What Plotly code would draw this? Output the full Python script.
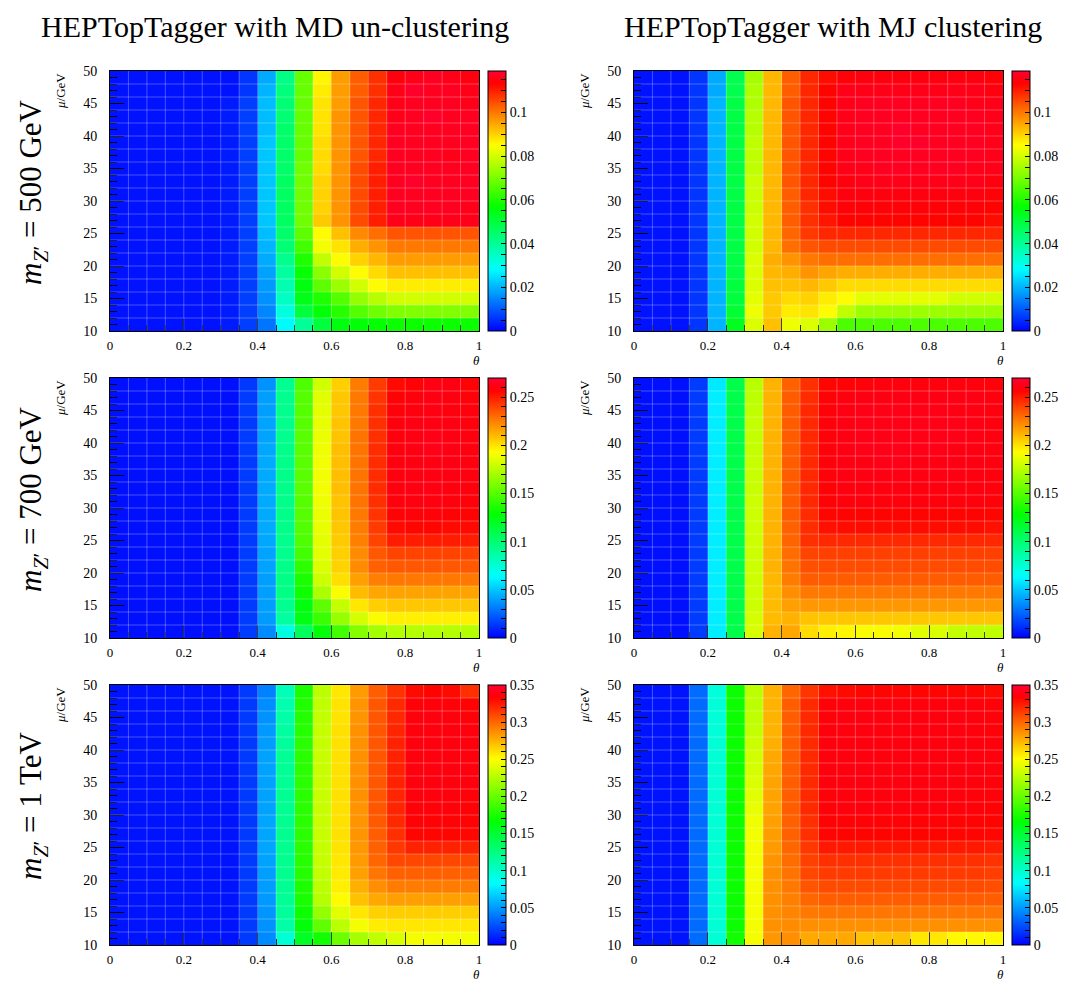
import plotly.graph_objects as go
import colorsys

W_REF, H_REF = 1067, 981
OFF = 8            # the page body margin shifts the figure by 8 px
W, H = W_REF - OFF, H_REF - OFF
MR = 60            # right margin reserved for the outer colorbar labels

# ---------------- data ----------------
theta_centers = [0.025, 0.075, 0.125, 0.175, 0.225, 0.275, 0.325, 0.375, 0.425, 0.475,
                 0.525, 0.575, 0.625, 0.675, 0.725, 0.775, 0.825, 0.875, 0.925, 0.975]
mu_centers = [49, 47, 45, 43, 41, 39, 37, 35, 33, 31, 29, 27, 25, 23, 21, 19, 17, 15, 13, 11]

x_tick_vals = [0, 0.2, 0.4, 0.6, 0.8, 1]
x_tick_text = ["0", "0.2", "0.4", "0.6", "0.8", "1"]
y_tick_vals = [10, 15, 20, 25, 30, 35, 40, 45, 50]
y_tick_text = ["10", "15", "20", "25", "30", "35", "40", "45", "50"]

col_titles = ["HEPTopTagger with MD un-clustering", "HEPTopTagger with MJ clustering"]
row_titles = ["<i>m</i><sub><i>Z</i>′</sub> = 500 GeV",
              "<i>m</i><sub><i>Z</i>′</sub> = 700 GeV",
              "<i>m</i><sub><i>Z</i>′</sub> = 1 TeV"]

z_max = [0.119, 0.27, 0.35]
cbar_dtick = [0.005, 0.01, 0.01]
cbar_label_step = [4, 5, 5]

md_500 = [
    [0.002,0.002,0.002,0.002,0.002,0.002,0.002,0.006,0.019,0.042,0.068,0.086,0.096,0.103,0.108,0.115,0.116,0.117,0.116,0.115],
    [0.002,0.002,0.002,0.002,0.002,0.002,0.002,0.006,0.020,0.043,0.068,0.087,0.096,0.103,0.108,0.116,0.118,0.117,0.117,0.116],
    [0.002,0.002,0.002,0.002,0.002,0.002,0.003,0.007,0.021,0.044,0.068,0.088,0.096,0.104,0.109,0.116,0.117,0.117,0.117,0.116],
    [0.002,0.002,0.002,0.002,0.002,0.002,0.003,0.007,0.021,0.044,0.068,0.088,0.097,0.104,0.109,0.116,0.117,0.118,0.117,0.117],
    [0.002,0.002,0.002,0.002,0.002,0.002,0.003,0.007,0.021,0.045,0.068,0.088,0.097,0.104,0.109,0.117,0.117,0.117,0.117,0.117],
    [0.002,0.002,0.002,0.002,0.002,0.002,0.003,0.007,0.022,0.045,0.068,0.089,0.097,0.104,0.109,0.117,0.117,0.117,0.117,0.117],
    [0.002,0.002,0.002,0.002,0.002,0.002,0.003,0.007,0.022,0.045,0.068,0.089,0.097,0.104,0.109,0.117,0.117,0.117,0.116,0.117],
    [0.002,0.002,0.002,0.002,0.002,0.002,0.003,0.007,0.022,0.045,0.069,0.089,0.097,0.105,0.110,0.117,0.117,0.117,0.117,0.117],
    [0.002,0.002,0.002,0.002,0.002,0.002,0.003,0.007,0.022,0.046,0.069,0.090,0.097,0.105,0.110,0.117,0.118,0.117,0.117,0.117],
    [0.002,0.002,0.002,0.002,0.002,0.002,0.003,0.007,0.022,0.046,0.069,0.090,0.097,0.105,0.110,0.117,0.117,0.117,0.117,0.117],
    [0.002,0.002,0.002,0.002,0.002,0.002,0.003,0.007,0.022,0.046,0.069,0.090,0.097,0.105,0.110,0.117,0.117,0.117,0.117,0.116],
    [0.002,0.002,0.002,0.002,0.002,0.002,0.003,0.007,0.022,0.046,0.069,0.091,0.097,0.105,0.110,0.116,0.116,0.116,0.116,0.116],
    [0.002,0.002,0.002,0.002,0.002,0.002,0.003,0.007,0.021,0.045,0.067,0.085,0.092,0.098,0.101,0.104,0.104,0.104,0.104,0.104],
    [0.002,0.002,0.002,0.002,0.002,0.002,0.003,0.007,0.020,0.044,0.064,0.084,0.088,0.094,0.097,0.100,0.100,0.100,0.100,0.100],
    [0.002,0.002,0.002,0.002,0.002,0.002,0.003,0.007,0.019,0.041,0.060,0.078,0.085,0.090,0.093,0.096,0.096,0.096,0.096,0.096],
    [0.002,0.002,0.002,0.002,0.002,0.002,0.003,0.007,0.018,0.039,0.057,0.072,0.080,0.085,0.089,0.092,0.092,0.092,0.092,0.092],
    [0.002,0.002,0.002,0.002,0.002,0.002,0.003,0.007,0.017,0.037,0.055,0.067,0.074,0.080,0.085,0.087,0.087,0.087,0.087,0.087],
    [0.002,0.002,0.002,0.002,0.002,0.002,0.003,0.007,0.016,0.035,0.054,0.060,0.066,0.073,0.077,0.080,0.080,0.080,0.080,0.080],
    [0.002,0.002,0.002,0.002,0.002,0.002,0.003,0.007,0.015,0.032,0.050,0.056,0.061,0.066,0.069,0.071,0.071,0.071,0.071,0.071],
    [0.002,0.002,0.002,0.002,0.002,0.002,0.003,0.007,0.013,0.028,0.040,0.050,0.055,0.056,0.057,0.058,0.058,0.058,0.058,0.058],
]

mj_500 = [
    [0.002,0.002,0.002,0.006,0.019,0.048,0.075,0.093,0.103,0.109,0.112,0.114,0.115,0.115,0.115,0.115,0.115,0.115,0.115,0.114],
    [0.002,0.002,0.002,0.006,0.019,0.048,0.076,0.093,0.103,0.109,0.113,0.116,0.116,0.116,0.116,0.116,0.116,0.116,0.116,0.115],
    [0.002,0.002,0.002,0.006,0.020,0.049,0.076,0.093,0.104,0.109,0.113,0.116,0.117,0.117,0.117,0.117,0.117,0.117,0.116,0.116],
    [0.002,0.002,0.002,0.006,0.020,0.049,0.077,0.093,0.104,0.109,0.113,0.116,0.117,0.117,0.117,0.117,0.117,0.117,0.117,0.116],
    [0.002,0.002,0.002,0.006,0.020,0.049,0.077,0.093,0.104,0.109,0.113,0.116,0.117,0.117,0.118,0.117,0.117,0.117,0.117,0.116],
    [0.002,0.002,0.002,0.006,0.020,0.049,0.078,0.093,0.104,0.109,0.113,0.116,0.117,0.117,0.118,0.118,0.117,0.117,0.117,0.116],
    [0.002,0.002,0.002,0.006,0.020,0.049,0.078,0.093,0.104,0.109,0.113,0.116,0.117,0.117,0.117,0.117,0.117,0.117,0.117,0.116],
    [0.002,0.002,0.002,0.006,0.020,0.049,0.078,0.093,0.104,0.109,0.113,0.116,0.116,0.117,0.117,0.117,0.117,0.117,0.116,0.116],
    [0.002,0.002,0.002,0.006,0.020,0.049,0.079,0.093,0.104,0.109,0.113,0.115,0.116,0.116,0.116,0.116,0.116,0.116,0.116,0.115],
    [0.002,0.002,0.002,0.006,0.020,0.049,0.079,0.093,0.103,0.109,0.112,0.115,0.115,0.115,0.115,0.115,0.115,0.115,0.115,0.114],
    [0.002,0.002,0.002,0.006,0.020,0.049,0.079,0.093,0.103,0.108,0.112,0.114,0.114,0.114,0.114,0.114,0.114,0.114,0.114,0.113],
    [0.002,0.002,0.002,0.006,0.020,0.049,0.080,0.093,0.103,0.108,0.111,0.113,0.113,0.113,0.113,0.113,0.113,0.113,0.113,0.112],
    [0.002,0.002,0.002,0.006,0.020,0.049,0.080,0.093,0.102,0.107,0.109,0.109,0.109,0.109,0.109,0.109,0.109,0.109,0.109,0.109],
    [0.002,0.002,0.002,0.006,0.020,0.049,0.080,0.093,0.101,0.104,0.105,0.105,0.105,0.105,0.105,0.105,0.105,0.105,0.105,0.105],
    [0.002,0.002,0.002,0.006,0.020,0.049,0.081,0.094,0.097,0.100,0.101,0.101,0.101,0.101,0.101,0.101,0.101,0.101,0.101,0.101],
    [0.002,0.002,0.002,0.006,0.020,0.049,0.081,0.093,0.094,0.097,0.095,0.094,0.094,0.094,0.094,0.094,0.094,0.094,0.094,0.094],
    [0.002,0.002,0.002,0.006,0.020,0.050,0.081,0.092,0.092,0.093,0.091,0.089,0.089,0.089,0.089,0.089,0.089,0.089,0.089,0.089],
    [0.002,0.002,0.002,0.006,0.020,0.050,0.082,0.091,0.089,0.090,0.087,0.085,0.082,0.082,0.082,0.082,0.082,0.080,0.080,0.080],
    [0.002,0.002,0.002,0.006,0.020,0.051,0.083,0.091,0.087,0.088,0.085,0.078,0.074,0.074,0.074,0.074,0.074,0.074,0.074,0.074],
    [0.002,0.002,0.002,0.006,0.020,0.053,0.081,0.092,0.083,0.081,0.074,0.065,0.065,0.065,0.065,0.065,0.065,0.065,0.065,0.065],
]

md_700 = [
    [0.004,0.004,0.004,0.004,0.004,0.004,0.004,0.014,0.037,0.092,0.148,0.181,0.205,0.226,0.242,0.255,0.258,0.262,0.262,0.258],
    [0.004,0.004,0.004,0.004,0.004,0.004,0.004,0.015,0.040,0.093,0.150,0.185,0.207,0.227,0.244,0.258,0.260,0.262,0.261,0.259],
    [0.004,0.004,0.004,0.004,0.004,0.004,0.004,0.015,0.040,0.093,0.150,0.186,0.207,0.227,0.245,0.259,0.261,0.262,0.261,0.260],
    [0.004,0.004,0.004,0.004,0.004,0.004,0.004,0.015,0.041,0.093,0.150,0.187,0.208,0.227,0.245,0.260,0.262,0.262,0.262,0.260],
    [0.004,0.004,0.004,0.004,0.004,0.004,0.004,0.015,0.041,0.093,0.151,0.188,0.208,0.228,0.245,0.260,0.262,0.263,0.262,0.261],
    [0.004,0.004,0.004,0.004,0.004,0.004,0.004,0.015,0.042,0.094,0.151,0.189,0.209,0.228,0.246,0.261,0.262,0.263,0.262,0.261],
    [0.004,0.004,0.004,0.004,0.004,0.004,0.004,0.015,0.043,0.094,0.151,0.190,0.209,0.228,0.246,0.261,0.262,0.262,0.262,0.261],
    [0.004,0.004,0.004,0.004,0.004,0.004,0.004,0.015,0.043,0.094,0.151,0.190,0.209,0.228,0.246,0.261,0.262,0.262,0.262,0.261],
    [0.004,0.004,0.004,0.004,0.004,0.004,0.004,0.015,0.043,0.094,0.151,0.190,0.209,0.228,0.246,0.261,0.262,0.262,0.261,0.260],
    [0.004,0.004,0.004,0.004,0.004,0.004,0.004,0.015,0.043,0.094,0.150,0.189,0.208,0.228,0.245,0.260,0.261,0.261,0.260,0.259],
    [0.004,0.004,0.004,0.004,0.004,0.004,0.004,0.015,0.043,0.094,0.150,0.188,0.208,0.227,0.244,0.258,0.259,0.259,0.258,0.257],
    [0.004,0.004,0.004,0.004,0.004,0.004,0.004,0.015,0.043,0.094,0.149,0.187,0.207,0.226,0.242,0.255,0.256,0.256,0.255,0.255],
    [0.004,0.004,0.004,0.004,0.004,0.004,0.004,0.015,0.042,0.093,0.148,0.186,0.206,0.225,0.240,0.250,0.250,0.250,0.250,0.250],
    [0.004,0.004,0.004,0.004,0.004,0.004,0.004,0.015,0.041,0.093,0.145,0.186,0.205,0.222,0.235,0.240,0.240,0.240,0.240,0.240],
    [0.004,0.004,0.004,0.004,0.004,0.004,0.004,0.015,0.041,0.094,0.140,0.184,0.204,0.222,0.233,0.235,0.235,0.235,0.235,0.235],
    [0.004,0.004,0.004,0.004,0.004,0.004,0.004,0.015,0.040,0.095,0.135,0.180,0.201,0.217,0.225,0.227,0.227,0.227,0.227,0.227],
    [0.004,0.004,0.004,0.004,0.004,0.004,0.004,0.015,0.040,0.095,0.132,0.172,0.192,0.210,0.215,0.216,0.216,0.216,0.216,0.216],
    [0.004,0.004,0.004,0.004,0.004,0.004,0.004,0.015,0.040,0.092,0.125,0.152,0.178,0.199,0.205,0.207,0.207,0.207,0.207,0.207],
    [0.004,0.004,0.004,0.004,0.004,0.004,0.004,0.015,0.039,0.088,0.124,0.143,0.167,0.182,0.192,0.197,0.197,0.197,0.197,0.197],
    [0.004,0.004,0.004,0.004,0.004,0.004,0.004,0.015,0.035,0.072,0.105,0.127,0.145,0.162,0.170,0.174,0.174,0.174,0.174,0.174],
]

mj_700 = [
    [0.004,0.004,0.004,0.015,0.059,0.110,0.175,0.212,0.233,0.245,0.256,0.258,0.259,0.260,0.260,0.260,0.260,0.260,0.260,0.259],
    [0.004,0.004,0.004,0.015,0.060,0.110,0.176,0.212,0.234,0.246,0.258,0.261,0.262,0.262,0.262,0.262,0.262,0.262,0.262,0.261],
    [0.004,0.004,0.004,0.015,0.060,0.110,0.177,0.212,0.234,0.247,0.259,0.262,0.263,0.263,0.263,0.263,0.263,0.262,0.262,0.261],
    [0.004,0.004,0.004,0.015,0.060,0.110,0.178,0.212,0.234,0.247,0.259,0.262,0.263,0.263,0.263,0.263,0.263,0.263,0.262,0.261],
    [0.004,0.004,0.004,0.015,0.060,0.110,0.178,0.212,0.234,0.247,0.259,0.262,0.263,0.263,0.263,0.263,0.263,0.263,0.262,0.261],
    [0.004,0.004,0.004,0.015,0.060,0.110,0.178,0.212,0.234,0.247,0.259,0.262,0.263,0.263,0.263,0.263,0.263,0.262,0.262,0.261],
    [0.004,0.004,0.004,0.015,0.060,0.110,0.179,0.212,0.234,0.247,0.259,0.262,0.262,0.263,0.263,0.262,0.262,0.262,0.262,0.261],
    [0.004,0.004,0.004,0.015,0.060,0.110,0.179,0.212,0.234,0.247,0.259,0.262,0.262,0.262,0.262,0.262,0.262,0.262,0.261,0.260],
    [0.004,0.004,0.004,0.015,0.060,0.110,0.179,0.212,0.234,0.247,0.258,0.261,0.261,0.261,0.261,0.261,0.261,0.261,0.261,0.260],
    [0.004,0.004,0.004,0.015,0.060,0.110,0.180,0.212,0.234,0.247,0.258,0.260,0.260,0.260,0.260,0.260,0.260,0.260,0.260,0.259],
    [0.004,0.004,0.004,0.015,0.060,0.110,0.180,0.212,0.234,0.246,0.256,0.257,0.257,0.257,0.257,0.257,0.257,0.257,0.257,0.256],
    [0.004,0.004,0.004,0.015,0.060,0.110,0.180,0.212,0.233,0.246,0.253,0.254,0.254,0.254,0.254,0.254,0.254,0.254,0.254,0.253],
    [0.004,0.004,0.004,0.015,0.060,0.110,0.180,0.212,0.232,0.245,0.247,0.247,0.247,0.247,0.247,0.247,0.247,0.247,0.247,0.247],
    [0.004,0.004,0.004,0.015,0.060,0.110,0.180,0.212,0.230,0.240,0.241,0.241,0.241,0.241,0.241,0.241,0.241,0.241,0.241,0.241],
    [0.004,0.004,0.004,0.015,0.060,0.110,0.180,0.212,0.228,0.237,0.238,0.238,0.238,0.238,0.238,0.238,0.238,0.238,0.238,0.238],
    [0.004,0.004,0.004,0.015,0.060,0.110,0.180,0.211,0.226,0.234,0.234,0.234,0.234,0.234,0.234,0.234,0.234,0.234,0.234,0.234],
    [0.004,0.004,0.004,0.015,0.060,0.110,0.180,0.210,0.221,0.227,0.227,0.227,0.227,0.227,0.227,0.227,0.227,0.227,0.227,0.227],
    [0.004,0.004,0.004,0.015,0.060,0.110,0.180,0.210,0.217,0.219,0.219,0.219,0.219,0.219,0.219,0.219,0.219,0.219,0.219,0.219],
    [0.004,0.004,0.004,0.015,0.060,0.110,0.182,0.210,0.212,0.208,0.207,0.207,0.207,0.207,0.207,0.207,0.207,0.207,0.207,0.207],
    [0.004,0.004,0.004,0.015,0.060,0.110,0.183,0.212,0.215,0.202,0.197,0.195,0.192,0.192,0.190,0.185,0.184,0.178,0.177,0.177],
]

md_1tev = [
    [0.006,0.006,0.006,0.006,0.006,0.006,0.006,0.019,0.042,0.107,0.175,0.228,0.258,0.283,0.303,0.317,0.330,0.333,0.330,0.318],
    [0.006,0.006,0.006,0.006,0.006,0.006,0.006,0.019,0.046,0.110,0.177,0.229,0.259,0.285,0.305,0.320,0.336,0.337,0.336,0.334],
    [0.006,0.006,0.006,0.006,0.006,0.006,0.006,0.019,0.048,0.112,0.178,0.230,0.259,0.285,0.305,0.320,0.337,0.338,0.337,0.336],
    [0.006,0.006,0.006,0.006,0.006,0.006,0.006,0.019,0.050,0.114,0.179,0.231,0.260,0.286,0.305,0.321,0.337,0.338,0.338,0.337],
    [0.006,0.006,0.006,0.006,0.006,0.006,0.006,0.019,0.051,0.116,0.180,0.231,0.260,0.286,0.305,0.322,0.338,0.338,0.338,0.337],
    [0.006,0.006,0.006,0.006,0.006,0.006,0.006,0.019,0.053,0.118,0.180,0.232,0.260,0.286,0.305,0.322,0.338,0.338,0.338,0.337],
    [0.006,0.006,0.006,0.006,0.006,0.006,0.006,0.019,0.053,0.118,0.180,0.232,0.260,0.286,0.305,0.322,0.338,0.338,0.338,0.337],
    [0.006,0.006,0.006,0.006,0.006,0.006,0.006,0.019,0.053,0.118,0.180,0.232,0.260,0.286,0.305,0.322,0.338,0.338,0.337,0.337],
    [0.006,0.006,0.006,0.006,0.006,0.006,0.006,0.019,0.053,0.119,0.180,0.232,0.260,0.286,0.305,0.321,0.337,0.337,0.337,0.336],
    [0.006,0.006,0.006,0.006,0.006,0.006,0.006,0.019,0.053,0.119,0.180,0.232,0.260,0.285,0.305,0.321,0.336,0.336,0.336,0.335],
    [0.006,0.006,0.006,0.006,0.006,0.006,0.006,0.019,0.054,0.120,0.180,0.232,0.260,0.285,0.304,0.320,0.335,0.335,0.335,0.334],
    [0.006,0.006,0.006,0.006,0.006,0.006,0.006,0.019,0.054,0.120,0.180,0.232,0.260,0.285,0.303,0.318,0.332,0.332,0.332,0.331],
    [0.006,0.006,0.006,0.006,0.006,0.006,0.006,0.019,0.054,0.120,0.180,0.231,0.259,0.284,0.302,0.315,0.322,0.322,0.322,0.322],
    [0.006,0.006,0.006,0.006,0.006,0.006,0.006,0.019,0.053,0.120,0.179,0.231,0.258,0.283,0.300,0.310,0.310,0.310,0.310,0.310],
    [0.006,0.006,0.006,0.006,0.006,0.006,0.006,0.019,0.052,0.120,0.178,0.230,0.257,0.281,0.295,0.302,0.302,0.302,0.302,0.302],
    [0.006,0.006,0.006,0.006,0.006,0.006,0.006,0.019,0.051,0.119,0.176,0.228,0.255,0.276,0.287,0.293,0.293,0.293,0.293,0.293],
    [0.006,0.006,0.006,0.006,0.006,0.006,0.006,0.019,0.050,0.118,0.174,0.226,0.250,0.270,0.278,0.281,0.281,0.281,0.281,0.281],
    [0.006,0.006,0.006,0.006,0.006,0.006,0.006,0.019,0.049,0.116,0.170,0.215,0.240,0.258,0.265,0.266,0.266,0.266,0.266,0.266],
    [0.006,0.006,0.006,0.006,0.006,0.006,0.006,0.019,0.048,0.112,0.165,0.198,0.228,0.247,0.256,0.258,0.258,0.258,0.258,0.258],
    [0.006,0.006,0.006,0.006,0.006,0.006,0.006,0.019,0.045,0.097,0.155,0.172,0.202,0.221,0.229,0.238,0.247,0.247,0.247,0.247],
]

mj_1tev = [
    [0.006,0.006,0.006,0.035,0.095,0.170,0.228,0.275,0.300,0.316,0.328,0.330,0.332,0.332,0.332,0.332,0.332,0.332,0.332,0.330],
    [0.006,0.006,0.006,0.035,0.096,0.170,0.228,0.275,0.303,0.320,0.336,0.337,0.337,0.337,0.337,0.337,0.337,0.337,0.337,0.336],
    [0.006,0.006,0.006,0.035,0.096,0.170,0.229,0.275,0.303,0.320,0.336,0.338,0.338,0.338,0.338,0.338,0.338,0.338,0.337,0.336],
    [0.006,0.006,0.006,0.035,0.096,0.170,0.230,0.275,0.303,0.320,0.337,0.338,0.338,0.338,0.338,0.338,0.338,0.338,0.337,0.336],
    [0.006,0.006,0.006,0.035,0.097,0.170,0.233,0.276,0.303,0.320,0.337,0.338,0.338,0.338,0.338,0.338,0.338,0.338,0.337,0.337],
    [0.006,0.006,0.006,0.035,0.097,0.170,0.235,0.278,0.303,0.320,0.337,0.338,0.338,0.338,0.338,0.338,0.338,0.338,0.338,0.337],
    [0.006,0.006,0.006,0.035,0.097,0.170,0.236,0.279,0.303,0.320,0.337,0.338,0.338,0.338,0.338,0.338,0.338,0.338,0.338,0.337],
    [0.006,0.006,0.006,0.035,0.097,0.170,0.238,0.280,0.303,0.320,0.337,0.338,0.338,0.338,0.338,0.338,0.338,0.337,0.337,0.336],
    [0.006,0.006,0.006,0.035,0.097,0.170,0.240,0.280,0.303,0.320,0.336,0.337,0.337,0.337,0.337,0.337,0.337,0.337,0.336,0.336],
    [0.006,0.006,0.006,0.035,0.097,0.170,0.242,0.280,0.303,0.320,0.336,0.337,0.337,0.337,0.337,0.337,0.337,0.336,0.336,0.335],
    [0.006,0.006,0.006,0.035,0.097,0.170,0.245,0.281,0.302,0.318,0.334,0.335,0.335,0.335,0.335,0.335,0.335,0.334,0.334,0.333],
    [0.006,0.006,0.006,0.035,0.097,0.170,0.246,0.282,0.302,0.318,0.332,0.333,0.333,0.333,0.333,0.333,0.333,0.332,0.332,0.331],
    [0.006,0.006,0.006,0.035,0.097,0.170,0.246,0.283,0.300,0.315,0.325,0.325,0.325,0.325,0.325,0.325,0.325,0.325,0.325,0.324],
    [0.006,0.006,0.006,0.035,0.097,0.170,0.247,0.285,0.298,0.312,0.318,0.318,0.318,0.318,0.318,0.318,0.318,0.318,0.318,0.317],
    [0.006,0.006,0.006,0.035,0.097,0.170,0.247,0.286,0.296,0.310,0.314,0.314,0.314,0.314,0.314,0.314,0.314,0.314,0.314,0.313],
    [0.006,0.006,0.006,0.035,0.097,0.170,0.247,0.286,0.294,0.306,0.309,0.309,0.309,0.309,0.309,0.309,0.309,0.309,0.309,0.308],
    [0.006,0.006,0.006,0.035,0.097,0.170,0.247,0.286,0.292,0.300,0.303,0.303,0.303,0.303,0.303,0.303,0.303,0.303,0.303,0.303],
    [0.006,0.006,0.006,0.035,0.097,0.170,0.247,0.286,0.290,0.294,0.295,0.295,0.295,0.295,0.295,0.295,0.295,0.295,0.295,0.295],
    [0.006,0.006,0.006,0.035,0.097,0.170,0.247,0.286,0.288,0.287,0.286,0.286,0.286,0.286,0.286,0.286,0.286,0.286,0.286,0.286],
    [0.006,0.006,0.006,0.035,0.097,0.172,0.247,0.284,0.287,0.278,0.278,0.278,0.270,0.270,0.270,0.258,0.258,0.252,0.252,0.252],
]

panels = [[md_500, mj_500], [md_700, mj_700], [md_1tev, mj_1tev]]

# ---------------- style ----------------
SERIF = "Liberation Serif"

def rainbow_scale(n=60):
    stops = []
    for i in range(n + 1):
        f = i / n
        hue = (240.0 - 252.0 * f) % 360.0
        r, g, b = colorsys.hsv_to_rgb(hue / 360.0, 1.0, 1.0)
        stops.append([f, "rgb(%d,%d,%d)" % (round(r * 255), round(g * 255), round(b * 255))])
    return stops

CSCALE = rainbow_scale()

PW = W - MR  # width of the plotting area in px

def px_x(p):
    """reference screenshot x pixel -> paper fraction"""
    return (p - OFF) / PW

def px_y(p):
    """reference screenshot y pixel -> paper fraction"""
    return 1 - (p - OFF) / H

col_left = [110, 634]
plot_w = 369
row_top = [71, 378, 685]
plot_h = 260

fig = go.Figure()
layout = dict(width=W, height=H, margin=dict(l=0, r=MR, t=0, b=0, autoexpand=False), autosize=False,
              paper_bgcolor="white", plot_bgcolor="white", showlegend=False)
annotations = []
shapes = []

x_edges = [(theta_centers[i] + theta_centers[i + 1]) / 2 for i in range(len(theta_centers) - 1)]
mu_sorted = sorted(mu_centers)
y_edges = [(mu_sorted[i] + mu_sorted[i + 1]) / 2 for i in range(len(mu_sorted) - 1)]

k = 0
for r in range(3):
    for c in range(2):
        k += 1
        xa = "x" if k == 1 else "x%d" % k
        ya = "y" if k == 1 else "y%d" % k
        x0 = col_left[c]
        y0 = row_top[r]
        fig.add_trace(go.Heatmap(
            x=theta_centers, y=mu_centers, z=panels[r][c],
            zmin=0, zmax=z_max[r], colorscale=CSCALE, xaxis=xa, yaxis=ya,
            colorbar=dict(
                x=px_x(x0 + plot_w + 9), xanchor="left", xpad=0, ypad=0,
                y=px_y(y0 + plot_h / 2), yanchor="middle",
                len=plot_h / H, lenmode="fraction", thickness=18, thicknessmode="pixels",
                outlinecolor="black", outlinewidth=1, borderwidth=0,
                ticks="inside", ticklen=5, tickwidth=1, tickcolor="black",
                tickmode="linear", tick0=0, dtick=cbar_dtick[r],
                ticklabelstep=cbar_label_step[r],
                tickfont=dict(family=SERIF, size=14, color="black"),
            ),
            hoverinfo="skip",
        ))
        xkey = "xaxis" if k == 1 else "xaxis%d" % k
        ykey = "yaxis" if k == 1 else "yaxis%d" % k
        layout[xkey] = dict(
            domain=[px_x(x0), px_x(x0 + plot_w)], range=[0, 1], anchor=ya,
            showline=True, linecolor="black", linewidth=1, mirror=True,
            showgrid=False, zeroline=False,
            ticks="inside", ticklen=13, tickwidth=1, tickcolor="black",
            tickvals=x_tick_vals, ticktext=x_tick_text, ticklabelstandoff=2,
            minor=dict(ticks="inside", ticklen=6, tickwidth=1, tickcolor="black",
                       dtick=0.05, tick0=0, showgrid=False),
            tickfont=dict(family=SERIF, size=13, color="black"),
        )
        layout[ykey] = dict(
            domain=[px_y(y0 + plot_h), px_y(y0)], range=[10, 50], anchor=xa,
            showline=True, linecolor="black", linewidth=1, mirror=True,
            showgrid=False, zeroline=False,
            ticks="inside", ticklen=14, tickwidth=1, tickcolor="black",
            tickvals=y_tick_vals, ticktext=y_tick_text, ticklabelstandoff=9,
            minor=dict(ticks="inside", ticklen=7, tickwidth=1, tickcolor="black",
                       dtick=1, tick0=10, showgrid=False),
            tickfont=dict(family=SERIF, size=14, color="black"),
        )
        for xe in x_edges:
            shapes.append(dict(type="line", xref=xa, yref=ya, x0=xe, x1=xe, y0=10, y1=50,
                               line=dict(color="rgba(255,255,255,0.28)", width=1), layer="above"))
        for ye in y_edges:
            shapes.append(dict(type="line", xref=xa, yref=ya, x0=0, x1=1, y0=ye, y1=ye,
                               line=dict(color="rgba(255,255,255,0.28)", width=1), layer="above"))
        annotations.append(dict(text="<i>μ</i>/GeV", xref="paper", yref="paper",
                                x=px_x(x0 - 50), y=px_y(y0), xanchor="center", yanchor="top",
                                textangle=-90, showarrow=False,
                                font=dict(family=SERIF, size=13, color="black")))
        annotations.append(dict(text="<i>θ</i>", xref="paper", yref="paper",
                                x=px_x(x0 + plot_w - 3), y=px_y(y0 + plot_h + 29),
                                xanchor="center", yanchor="middle", showarrow=False,
                                font=dict(family=SERIF, size=13, color="black")))

for c in range(2):
    annotations.append(dict(text=col_titles[c], xref="paper", yref="paper",
                            x=px_x([275, 833][c]), y=px_y(26), xanchor="center", yanchor="middle",
                            showarrow=False, font=dict(family=SERIF, size=30, color="black")))
for r in range(3):
    annotations.append(dict(text=row_titles[r], xref="paper", yref="paper",
                            x=px_x(33), y=px_y(row_top[r] + plot_h / 2 - 9),
                            xanchor="center", yanchor="middle", textangle=-90, showarrow=False,
                            font=dict(family=SERIF, size=31, color="black")))

layout["annotations"] = annotations
layout["shapes"] = shapes
fig.update_layout(**layout)
fig.write_html("out.html")
